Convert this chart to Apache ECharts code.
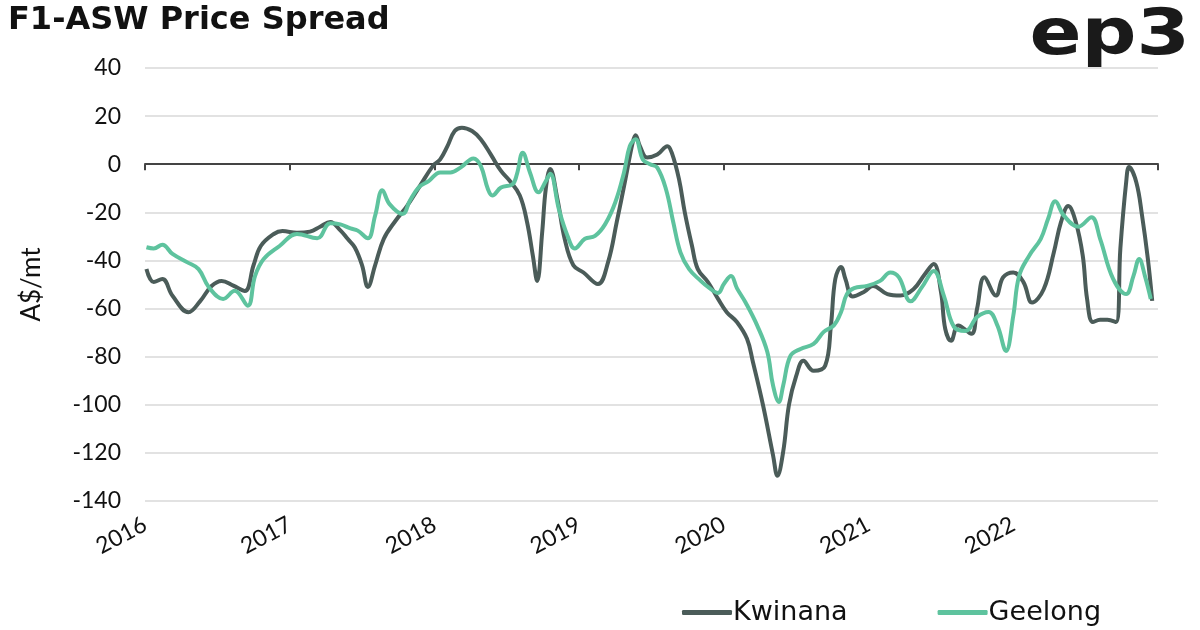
<!DOCTYPE html>
<html>
<head>
<meta charset="utf-8">
<script src="https://cdn.jsdelivr.net/npm/echarts@6/dist/echarts.min.js"></script>
<style>
html,body{margin:0;padding:0;background:#fff;}
#chart{width:1200px;height:630px;}
</style>
</head>
<body>
<div id="chart"></div>
<script>
// Tick labels
const yearLabels = [2016, 2017, 2018, 2019, 2020, 2021, 2022];

// Kwinana series (decimal year, A$/mt)
const kwinanaDates = [2016.01,2016.06,2016.12,2016.19,2016.30,2016.38,2016.46,2016.53,2016.61,2016.69,2016.75,2016.80,2016.89,2016.95,
 2017.05,2017.14,2017.21,2017.28,2017.35,2017.40,2017.45,2017.50,2017.54,2017.59,2017.65,2017.73,2017.81,2017.90,2017.99,
 2018.04,2018.09,2018.14,2018.19,2018.26,2018.32,2018.39,2018.46,2018.52,2018.59,2018.64,2018.68,2018.71,2018.745,2018.77,2018.80,2018.85,2018.90,2018.96,
 2019.03,2019.13,2019.20,2019.26,2019.32,2019.37,2019.39,2019.42,2019.47,2019.54,2019.61,2019.64,2019.69,2019.73,2019.78,2019.82,2019.89,2019.96,
 2020.02,2020.09,2020.16,2020.20,2020.27,2020.34,2020.37,2020.41,2020.45,2020.50,2020.55,2020.62,2020.70,2020.74,2020.77,2020.81,2020.84,2020.89,2020.97,
 2021.03,2021.13,2021.22,2021.31,2021.39,2021.45,2021.50,2021.53,2021.57,2021.62,2021.71,2021.75,2021.80,2021.88,2021.93,2022.00,
 2022.07,2022.13,2022.21,2022.28,2022.33,2022.38,2022.43,2022.48,2022.51,2022.55,2022.60,2022.65,2022.71,2022.74,2022.78,2022.80,2022.85,2022.89,2022.93,2022.96];
const kwinanaValues = [-43.6,-49,-47.7,-54.7,-61.5,-57,-50.6,-48.5,-50.5,-52.7,-42,-34,-29,-27.8,
 -28.5,-28,-26,-24,-27.5,-31,-34.6,-42,-51,-42,-31,-23.6,-17.4,-9,-0.7,
 2,7.5,13.8,15.2,13.8,10.4,4,-2.8,-6.9,-13,-24,-38,-48.5,-28,-10,-2,-14.5,-31,-42,
 -45,-49.8,-40.7,-24,-6.2,9,12,7.5,2.8,4,7.5,4.8,-6.2,-20,-34,-43.6,-49,-56,
 -61.5,-65.6,-72.6,-82,-100,-121,-129.5,-119.5,-100,-88,-81.7,-85.9,-83.8,-67,-47.7,-42.7,-47.7,-55,-53,
 -50.6,-54,-54.6,-52,-45.6,-41.5,-53,-68.5,-73.4,-67,-70.5,-60,-47,-54.6,-47,-45,
 -49,-57.5,-52,-36.7,-24,-17.4,-23.6,-38,-56,-65.6,-64.7,-64.7,-65.6,-35,-7.5,-1.2,-7.5,-21.4,-39.4,-56.8];

// Geelong series (decimal year, A$/mt)
const geelongDates = [2016.01,2016.06,2016.12,2016.19,2016.29,2016.37,2016.44,2016.54,2016.62,2016.71,2016.76,2016.82,2016.93,
 2017.05,2017.19,2017.28,2017.35,2017.42,2017.47,2017.54,2017.59,2017.64,2017.69,2017.78,2017.83,2017.89,2017.96,
 2018.04,2018.11,2018.18,2018.27,2018.32,2018.37,2018.40,2018.46,2018.54,2018.57,2018.61,2018.66,2018.72,2018.77,2018.80,2018.86,2018.92,2018.97,
 2019.04,2019.11,2019.18,2019.25,2019.31,2019.35,2019.39,2019.44,2019.49,2019.54,2019.60,2019.65,2019.70,2019.76,2019.84,2019.89,2019.96,
 2020.00,2020.05,2020.09,2020.15,2020.23,2020.30,2020.34,2020.38,2020.41,2020.46,2020.53,2020.62,2020.69,2020.76,2020.81,2020.85,2020.90,2020.99,
 2021.08,2021.15,2021.21,2021.29,2021.37,2021.45,2021.52,2021.59,2021.67,2021.75,2021.83,2021.89,2021.95,
 2022.00,2022.04,2022.11,2022.19,2022.24,2022.29,2022.35,2022.45,2022.54,2022.60,2022.69,2022.78,2022.83,2022.87,2022.91,2022.95];
const geelongValues = [-34.5,-35,-33.5,-37.3,-40.7,-43.6,-51,-56,-52.6,-58.8,-46.5,-39.4,-34,
 -29,-30.8,-24.5,-25,-26.7,-27.6,-30.8,-21.4,-10.8,-16.6,-20.7,-15.2,-9.7,-7,
 -3.4,-3.4,-1.4,2.4,-0.7,-10.4,-13,-9.7,-8.3,-4.1,4.8,-3.4,-11.7,-7,-4,-18.7,-29.8,-35,
 -31,-29.8,-24.9,-15.8,-3.4,7.5,10.4,2,0,-1.4,-10.4,-24,-36.6,-43.6,-48.5,-51,-53.5,
 -49.8,-46.5,-51.5,-57.5,-67,-78,-92,-98.8,-92,-79.7,-76.8,-74.7,-69.7,-67,-61.4,-54,-51.5,-50.6,
 -48.5,-45,-47,-57,-51,-44.4,-54.6,-67.6,-69.3,-63.5,-61.4,-67,-77.6,
 -63,-46.5,-38,-31,-22.8,-15.4,-21.4,-26,-22,-31,-47.7,-54,-46.5,-39.4,-46.5,-56];

const zip = (a, b) => a.map((d, i) => [d, b[i]]);

const FONT = 'Lato';
const chart = echarts.init(document.getElementById('chart'), null, {renderer: 'canvas'});
chart.setOption({
  backgroundColor: '#ffffff',
  animation: false,
  title: {
    text: 'F1-ASW Price Spread',
    left: 3, top: 0,
    textStyle: {fontFamily: 'DejaVu Sans', fontWeight: 'bold', fontSize: 32, color: '#111'}
  },
  graphic: [{
    type: 'text', x: 1190, y: 5, scaleX: 1.2,
    style: {text: 'ep3', font: 'bold 64px "DejaVu Sans"', fill: '#1a1a1a', align: 'right', verticalAlign: 'top'}
  }],
  legend: {
    left: 677, top: 594,
    itemWidth: 50, itemHeight: 5, itemGap: 90,
    icon: 'roundRect',
    textStyle: {fontFamily: 'DejaVu Sans', fontSize: 27, color: '#111', padding: [0,0,0,-4]},
    data: ['Kwinana', 'Geelong']
  },
  grid: {left: 145, right: 42, top: 68, bottom: 129},
  xAxis: [{
    type: 'value', min: 2016, max: 2023, interval: 1, position: 'bottom',
    axisLine: {onZero: true, lineStyle: {color: '#444', width: 2}},
    axisTick: {show: true, length: 6, lineStyle: {color: '#444', width: 2}},
    axisLabel: {show: false},
    splitLine: {show: false}
  }, {
    type: 'value', min: 2016, max: 2023, interval: 1, position: 'bottom',
    axisLine: {show: false, onZero: false},
    axisTick: {show: false},
    splitLine: {show: false},
    axisLabel: {
      show: true, rotate: 28, margin: 22,
      fontFamily: FONT, fontSize: 23, color: '#111',
      formatter: v => (yearLabels.indexOf(v) >= 0 ? String(v) : '')
    }
  }],
  yAxis: {
    type: 'value', min: -140, max: 40, interval: 20,
    name: 'A$/mt', nameLocation: 'middle', nameGap: 100, nameRotate: 90,
    nameTextStyle: {fontFamily: FONT, fontSize: 26, color: '#111'},
    axisLine: {show: false}, axisTick: {show: false},
    axisLabel: {fontFamily: FONT, fontSize: 23, color: '#111', margin: 24},
    splitLine: {lineStyle: {color: '#d9d9d9', width: 1.5}}
  },
  series: [{
    name: 'Kwinana', type: 'line', xAxisIndex: 0, smooth: 0.4, showSymbol: false,
    lineStyle: {color: '#4b5c59', width: 4}, itemStyle: {color: '#4b5c59'},
    data: zip(kwinanaDates, kwinanaValues)
  }, {
    name: 'Geelong', type: 'line', xAxisIndex: 0, smooth: 0.4, showSymbol: false,
    lineStyle: {color: '#5ec39e', width: 4}, itemStyle: {color: '#5ec39e'},
    data: zip(geelongDates, geelongValues)
  }]
});
</script>
</body>
</html>
